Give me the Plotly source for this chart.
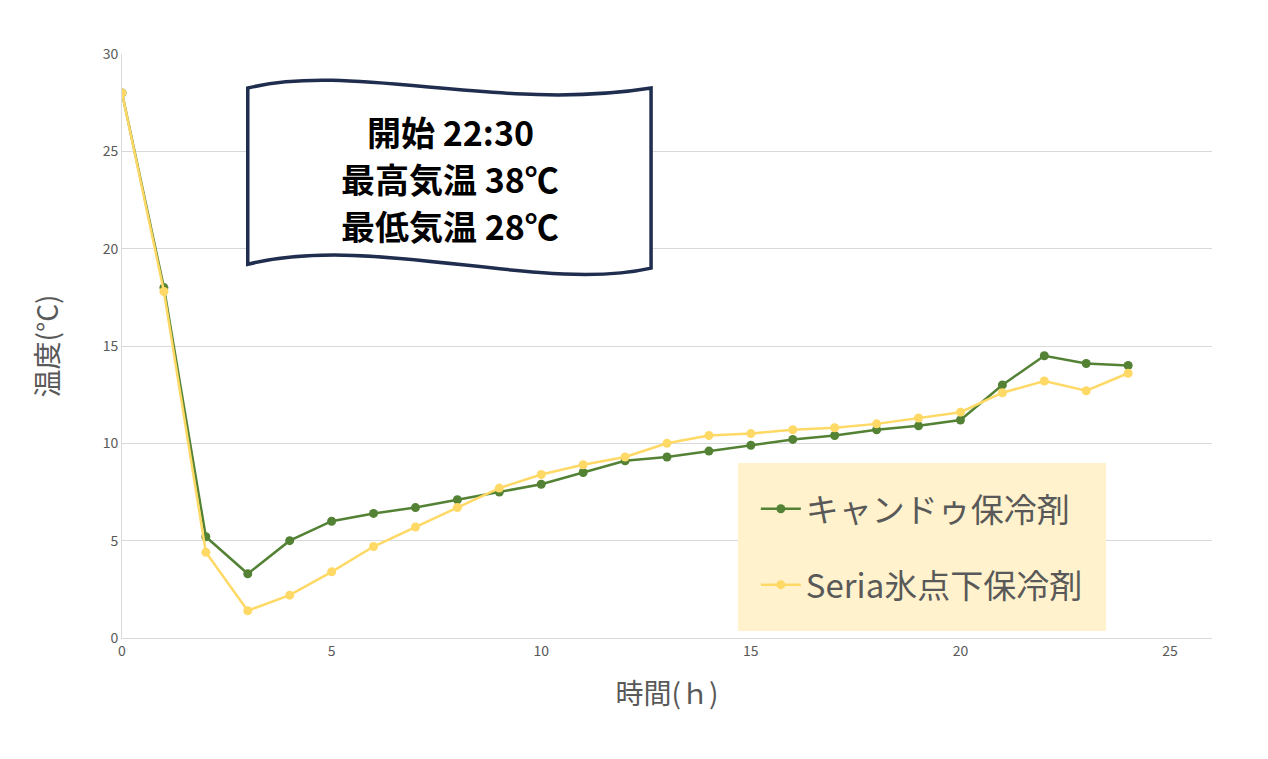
import plotly.graph_objects as go

hours = list(range(25))
kyando = [28, 18, 5.2, 3.3, 5.0, 6.0, 6.4, 6.7, 7.1, 7.5, 7.9, 8.5, 9.1, 9.3, 9.6, 9.9,
          10.2, 10.4, 10.7, 10.9, 11.2, 13.0, 14.5, 14.1, 14.0]
seria = [28, 17.8, 4.4, 1.4, 2.2, 3.4, 4.7, 5.7, 6.7, 7.7, 8.4, 8.9, 9.3, 10.0, 10.4, 10.5,
         10.7, 10.8, 11.0, 11.3, 11.6, 12.6, 13.2, 12.7, 13.6]
names = ["キャンドゥ保冷剤", "Seria氷点下保冷剤"]
colors = ["#548235", "#FFD966"]
flag_lines = ["開始 22:30", "最高気温 38℃", "最低気温 28℃"]

font = "Noto Sans CJK JP"
fig = go.Figure()
for i, (name, ys, c) in enumerate([(names[0], kyando, colors[0]), (names[1], seria, colors[1])]):
    fig.add_trace(go.Scatter(x=hours, y=ys, name=name, mode="lines+markers", legendgroup=str(i),
                             line=dict(color=c, width=2.5), marker=dict(size=9, color=c)))

# wavy flag in data coordinates
flag = ("M 3.0 28.25 C 5.5 29.6, 9 27.0, 12.62 28.25 "
        "L 12.62 19.0 C 10 17.7, 6 20.8, 3.0 19.2 Z")
fig.add_shape(type="path", path=flag, xref="x", yref="y",
              line=dict(color="#1F2D4E", width=3.5), fillcolor="white")
for k, (txt, yy) in enumerate(zip(flag_lines, [26.0, 23.6, 21.2])):
    fig.add_annotation(x=7.83, y=yy, xref="x", yref="y", text=txt, showarrow=False,
                       font=dict(family=font, size=34, color="black", weight="bold"))

fig.update_layout(
    width=1268, height=759, plot_bgcolor="white", paper_bgcolor="white",
    margin=dict(l=114, r=64, t=46, b=129),
    font=dict(family=font, color="#595959"),
    legend=dict(x=0.565, y=0.30, xanchor="left", yanchor="top", bgcolor="#FFF2CC",
                font=dict(size=33, color="#595959"), tracegroupgap=30,
                borderwidth=18, bordercolor="#FFF2CC", itemwidth=40),
    xaxis=dict(range=[0, 26], tickvals=[0, 5, 10, 15, 20, 25], showgrid=False,
               showline=True, linecolor="#D9D9D9", zeroline=False,
               tickfont=dict(size=14, color="#595959"),
               title=dict(text="時間(ｈ)", font=dict(size=28, color="#595959"), standoff=25)),
    yaxis=dict(range=[0, 30], dtick=5, gridcolor="#D9D9D9", zeroline=False,
               showline=True, linecolor="#D9D9D9",
               tickfont=dict(size=14, color="#595959"),
               title=dict(text="温度(°C)", font=dict(size=28, color="#595959"), standoff=35)),
)
fig.write_html("out.html")
